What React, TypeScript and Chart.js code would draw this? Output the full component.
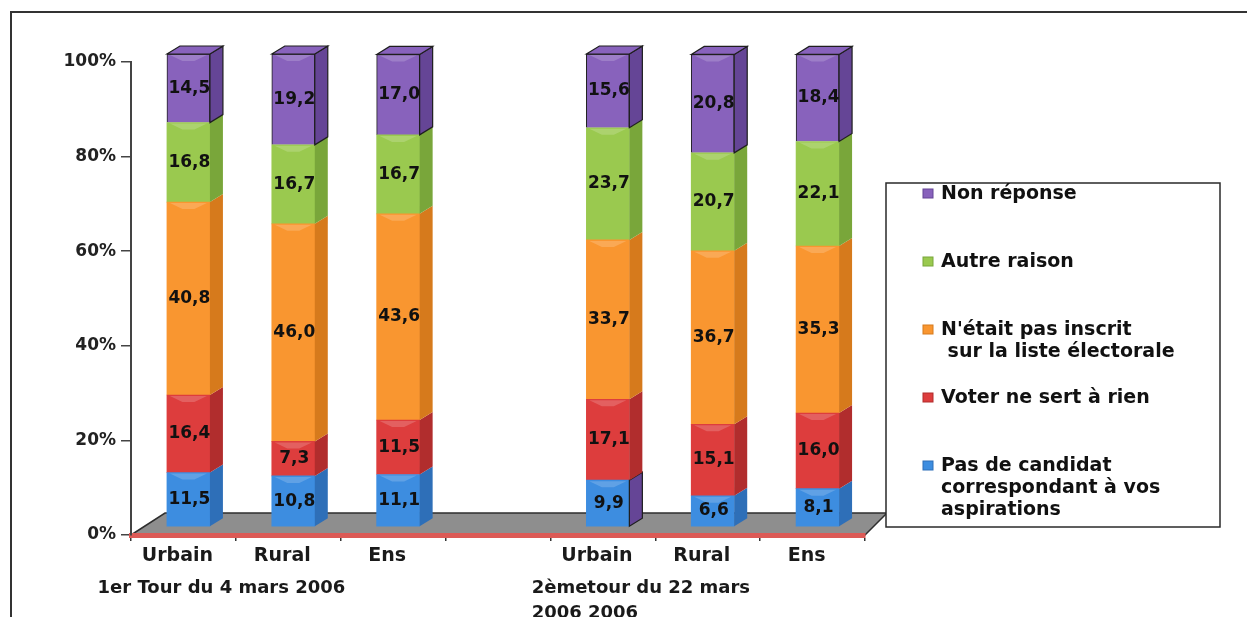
import React, { useEffect, useRef } from "react";
import { Chart, registerables } from "chart.js";

Chart.register(...registerables);

// ---- Data ----
const categories = ["Urbain", "Rural", "Ens", "", "Urbain", "Rural", "Ens"];
const groupStartIndex = [0, 4];
const groupLabels = [["1er Tour du 4 mars 2006"], ["2èmetour du 22 mars", "2006 2006"]];

const seriesNames = [
  "Pas de candidat\ncorrespondant à vos\naspirations",
  "Voter ne sert à rien",
  "N'était pas inscrit\n sur la liste électorale",
  "Autre raison",
  "Non réponse",
];
const pasDeCandidat = [11.5, 10.8, 11.1, null, 9.9, 6.6, 8.1];
const voterNeSertARien = [16.4, 7.3, 11.5, null, 17.1, 15.1, 16.0];
const pasInscrit = [40.8, 46.0, 43.6, null, 33.7, 36.7, 35.3];
const autreRaison = [16.8, 16.7, 16.7, null, 23.7, 20.7, 22.1];
const nonReponse = [14.5, 19.2, 17.0, null, 15.6, 20.8, 18.4];
const yTickValues = [0, 20, 40, 60, 80, 100];

// ---- Styles ----
const frontColors = ["#3d8de0", "#dd3d3d", "#f99630", "#9ac94f", "#8862bc"];
const sideColors = ["#2e6fb8", "#b12d2d", "#d67a1c", "#79a63a", "#654596"];
const outlined = [false, false, false, false, true];
const FONT = "'DejaVu Sans', 'Liberation Sans', Arial, sans-serif";
const DX = 13;
const DY = 8;
const SHIFT_X = 5;
const SHIFT_Y = -8;

const fmt = (v: number) => v.toFixed(1).replace(".", ",");

const floorPlugin = {
  id: "floor3d",
  beforeDraw(chart: any) {
    const { ctx, chartArea: a } = chart;
    ctx.save();
    ctx.beginPath();
    ctx.moveTo(a.left, a.bottom);
    ctx.lineTo(a.left + 34, a.bottom - 22);
    ctx.lineTo(a.right + 22, a.bottom - 22);
    ctx.lineTo(a.right, a.bottom);
    ctx.closePath();
    ctx.fillStyle = "#8e8e8e";
    ctx.fill();
    ctx.strokeStyle = "#2e2e2e";
    ctx.lineWidth = 1.5;
    ctx.stroke();
    ctx.restore();
  },
};

const bars3dPlugin = {
  id: "bars3d",
  beforeDatasetsDraw(chart: any) {
    chart.ctx.save();
    chart.ctx.translate(SHIFT_X, SHIFT_Y);
  },
  afterDatasetsDraw(chart: any) {
    const ctx = chart.ctx;
    const n = chart.data.datasets.length;
    chart.data.datasets.forEach((ds: any, di: number) => {
      const meta = chart.getDatasetMeta(di);
      meta.data.forEach((el: any, i: number) => {
        if (ds.data[i] == null) return;
        const { x, y, base, width } = el.getProps(["x", "y", "base", "width"], true);
        const l = x - width / 2;
        const r = x + width / 2;
        let side = sideColors[di];
        let outline = outlined[di];
        if (di === 0 && i === 4) {
          side = sideColors[4];
          outline = true;
        }
        ctx.beginPath();
        ctx.moveTo(r, y);
        ctx.lineTo(r + DX, y - DY);
        ctx.lineTo(r + DX, base - DY);
        ctx.lineTo(r, base);
        ctx.closePath();
        ctx.fillStyle = side;
        ctx.fill();
        if (outline) {
          ctx.strokeStyle = "#1e1e1e";
          ctx.lineWidth = 1.2;
          ctx.stroke();
        }
        ctx.beginPath();
        ctx.moveTo(l + 3, y + 1);
        ctx.lineTo(r - 3, y + 1);
        ctx.lineTo(x + 6, y + 7);
        ctx.lineTo(x - 6, y + 7);
        ctx.closePath();
        ctx.fillStyle = "rgba(255,255,255,0.18)";
        ctx.fill();
        if (di === n - 1) {
          ctx.beginPath();
          ctx.moveTo(l, y);
          ctx.lineTo(l + DX, y - DY);
          ctx.lineTo(r + DX, y - DY);
          ctx.lineTo(r, y);
          ctx.closePath();
          ctx.fillStyle = frontColors[di];
          ctx.fill();
          ctx.strokeStyle = "#1e1e1e";
          ctx.lineWidth = 1.2;
          ctx.stroke();
        }
      });
    });
    ctx.fillStyle = "#111";
    ctx.font = `bold 17px ${FONT}`;
    ctx.textAlign = "center";
    ctx.textBaseline = "middle";
    chart.data.datasets.forEach((ds: any, di: number) => {
      const meta = chart.getDatasetMeta(di);
      meta.data.forEach((el: any, i: number) => {
        const v = ds.data[i];
        if (v == null) return;
        const { x, y, base } = el.getProps(["x", "y", "base"], true);
        ctx.fillText(fmt(v), x + 1, (y + base) / 2);
      });
    });
    ctx.restore();
  },
};

const annotationsPlugin = {
  id: "legendAndGroups",
  afterDraw(chart: any) {
    const ctx = chart.ctx;
    const xs = chart.scales.x;
    ctx.save();
    ctx.font = `bold 18px ${FONT}`;
    ctx.fillStyle = "#1a1a1a";
    ctx.textAlign = "left";
    ctx.textBaseline = "middle";
    groupLabels.forEach((lines, gi) => {
      const cx = xs.getPixelForValue(groupStartIndex[gi]) + 38;
      const w = Math.max(...lines.map((t) => ctx.measureText(t).width));
      const left = cx - w / 2;
      lines.forEach((t, li) => ctx.fillText(t, left, 588 + li * 25));
    });

    const bx = 886, by = 183, bw = 334, bh = 344;
    ctx.fillStyle = "#fff";
    ctx.fillRect(bx, by, bw, bh);
    ctx.strokeStyle = "#2a2a2a";
    ctx.lineWidth = 1.5;
    ctx.strokeRect(bx, by, bw, bh);
    const ds = chart.data.datasets;
    ctx.font = `bold 19px ${FONT}`;
    ctx.textBaseline = "middle";
    for (let k = 0; k < ds.length; k++) {
      const di = ds.length - 1 - k;
      const y0 = by + 11 + k * 68;
      ctx.fillStyle = frontColors[di];
      ctx.fillRect(bx + 37, y0 - 5, 10, 9);
      ctx.strokeStyle = sideColors[di];
      ctx.lineWidth = 1;
      ctx.strokeRect(bx + 37, y0 - 5, 10, 9);
      ctx.fillStyle = "#111";
      const lines = String(ds[di].label).split("\n");
      lines.forEach((t, li) => ctx.fillText(t, bx + 55, y0 + li * 22));
    }
    ctx.restore();
  },
};

export default function App() {
  const ref = useRef<HTMLCanvasElement | null>(null);

  useEffect(() => {
    if (!ref.current) return;
    const series = [pasDeCandidat, voterNeSertARien, pasInscrit, autreRaison, nonReponse];
    const chart = new Chart(ref.current, {
      type: "bar",
      data: {
        labels: categories,
        datasets: series.map((d, i) => ({
          label: seriesNames[i],
          data: d,
          backgroundColor: frontColors[i],
          borderColor: "#1e1e1e",
          borderWidth: outlined[i] ? 1 : 0,
          borderSkipped: "bottom",
          barThickness: 43,
          clip: false,
        })) as any,
      },
      options: {
        responsive: false,
        animation: false,
        events: [],
        layout: { padding: { left: 0, right: 382, top: 62, bottom: 0 } },
        plugins: {
          legend: { display: false },
          tooltip: { enabled: false },
        },
        scales: {
          x: {
            stacked: true,
            grid: {
              offset: true,
              drawOnChartArea: false,
              tickLength: 6,
              color: "#333",
              lineWidth: 1.5,
            },
            border: { color: "#dc5a56", width: 5 },
            ticks: {
              color: "#1a1a1a",
              font: { family: FONT, weight: "bold", size: 19 },
              padding: 4,
              labelOffset: -6,
              maxRotation: 0,
              autoSkip: false,
            },
            afterFit: (s: any) => {
              s.height = 82;
            },
          },
          y: {
            stacked: true,
            min: 0,
            max: 100,
            grid: {
              drawOnChartArea: false,
              tickLength: 10,
              color: "#444",
              lineWidth: 1.5,
            },
            border: { color: "#444", width: 2 },
            afterBuildTicks: (s: any) => {
              s.ticks = yTickValues.map((v) => ({ value: v }));
            },
            ticks: {
              color: "#222",
              font: { family: FONT, weight: "bold", size: 17 },
              padding: 5,
              callback: (v: any) => `${v}%`,
            },
            afterFit: (s: any) => {
              s.width = 131;
            },
          },
        },
      },
      plugins: [floorPlugin, bars3dPlugin, annotationsPlugin],
    });
    return () => chart.destroy();
  }, []);

  return (
    <div
      style={{
        position: "fixed",
        left: 0,
        top: 0,
        width: 1247,
        height: 617,
        overflow: "hidden",
        background: "#fff",
      }}
    >
      <canvas ref={ref} width={1247} height={617} style={{ position: "absolute", left: 0, top: 0 }} />
      <div
        style={{
          position: "absolute",
          left: 10,
          top: 11,
          width: 1300,
          height: 700,
          border: "2px solid #333",
          pointerEvents: "none",
        }}
      />
    </div>
  );
}
